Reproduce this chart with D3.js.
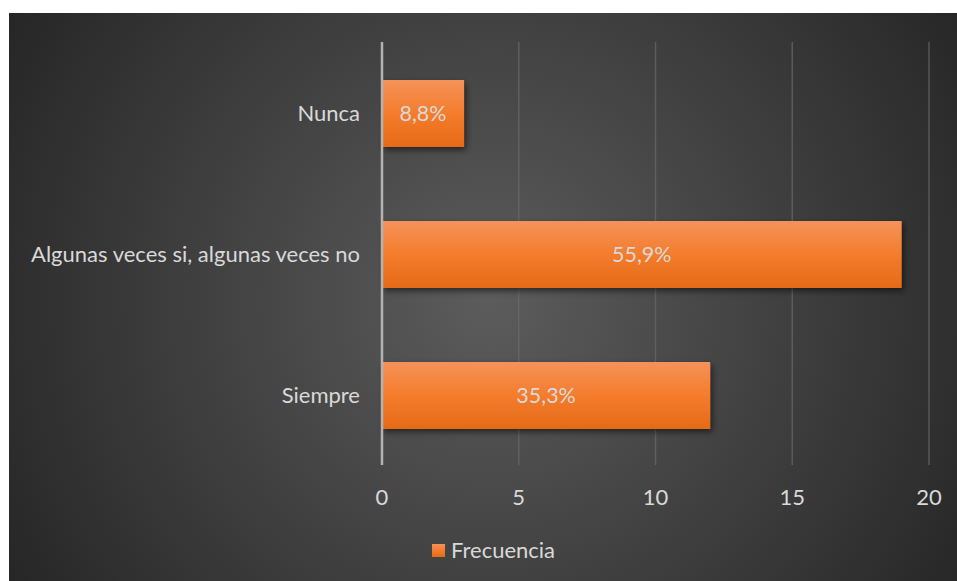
<!DOCTYPE html>
<html><head><meta charset="utf-8">
<script src="https://cdn.jsdelivr.net/npm/d3@7"></script>
<style>body{margin:0;background:#fff;}svg{display:block;}</style>
</head><body>
<svg id="chart" width="957" height="581"></svg>
<script>
const categories = ["Nunca", "Algunas veces si, algunas veces no", "Siempre"];
const values = [3, 19, 12];
const labels = ["8,8%", "55,9%", "35,3%"];
const ticks = [0, 5, 10, 15, 20];
const seriesName = "Frecuencia";

const svg = d3.select("#chart");
const defs = svg.append("defs");
const rg = defs.append("radialGradient").attr("id","bg").attr("gradientUnits","userSpaceOnUse")
  .attr("cx",490).attr("cy",300).attr("r",560);
rg.append("stop").attr("offset","0%").attr("stop-color","#5c5c5c");
rg.append("stop").attr("offset","100%").attr("stop-color","#262626");
const lg = defs.append("linearGradient").attr("id","bar").attr("x1",0).attr("y1",0).attr("x2",0).attr("y2",1);
lg.append("stop").attr("offset","0%").attr("stop-color","#F5925A");
lg.append("stop").attr("offset","50%").attr("stop-color","#F47C2C");
lg.append("stop").attr("offset","100%").attr("stop-color","#E66A17");
const f = defs.append("filter").attr("id","sh").attr("x","-10%").attr("y","-20%").attr("width","130%").attr("height","160%");
f.append("feDropShadow").attr("dx",2).attr("dy",3).attr("stdDeviation",3).attr("flood-color","#000").attr("flood-opacity",0.55);

svg.append("rect").attr("x",9).attr("y",13).attr("width",948).attr("height",568).attr("fill","url(#bg)");

const x = d3.scaleLinear().domain([0,20]).range([382,929]);
const y = d3.scaleBand().domain(categories).range([43,466]).paddingInner(0.525).paddingOuter(0.2625);
const font = "Lato, 'Open Sans', sans-serif";

// gridlines
svg.append("g").selectAll("line").data(ticks.slice(1)).join("line")
  .attr("x1",d=>x(d)).attr("x2",d=>x(d)).attr("y1",42).attr("y2",465)
  .attr("stroke","#6a6a6a").attr("stroke-width",1.5).attr("stroke-opacity",0.7);

// bars
svg.append("g").selectAll("rect").data(categories).join("rect")
  .attr("x",x(0)).attr("y",d=>y(d)).attr("width",(d,i)=>x(values[i])-x(0)).attr("height",y.bandwidth())
  .attr("fill","url(#bar)").attr("filter","url(#sh)");

// axis line
svg.append("line").attr("x1",x(0)).attr("x2",x(0)).attr("y1",42).attr("y2",465)
  .attr("stroke","#b3b3b3").attr("stroke-width",2.5);

// bar labels
svg.append("g").selectAll("text").data(categories).join("text")
  .attr("x",(d,i)=>(x(0)+x(values[i]))/2).attr("y",d=>y(d)+y.bandwidth()/2)
  .attr("dy","0.35em").attr("text-anchor","middle")
  .attr("font-family",font).attr("font-size",21.5).attr("fill","#d9d9d9")
  .text((d,i)=>labels[i]);

// category labels
svg.append("g").selectAll("text").data(categories).join("text")
  .attr("x",360).attr("y",d=>y(d)+y.bandwidth()/2).attr("dy","0.35em").attr("text-anchor","end")
  .attr("font-family",font).attr("font-size",22).attr("fill","#d9d9d9").text(d=>d);

// x tick labels
svg.append("g").selectAll("text").data(ticks).join("text")
  .attr("x",d=>x(d)).attr("y",505).attr("text-anchor","middle")
  .attr("font-family",font).attr("font-size",22).attr("fill","#d9d9d9").text(d=>d);

// legend
svg.append("rect").attr("x",432).attr("y",544).attr("width",13).attr("height",13).attr("fill","url(#bar)");
svg.append("text").attr("x",451).attr("y",557.5).attr("font-family",font).attr("font-size",22)
  .attr("fill","#d9d9d9").text(seriesName);
</script>
</body></html>
